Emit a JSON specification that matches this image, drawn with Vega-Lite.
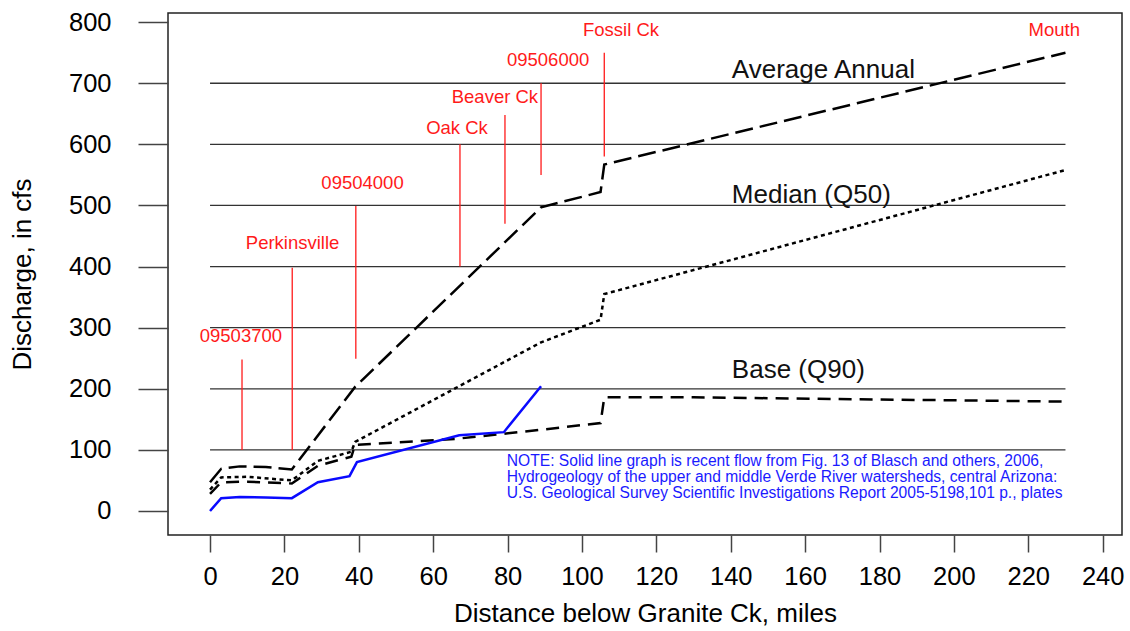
{
  "$schema": "https://vega.github.io/schema/vega-lite/v6.json",
  "width": 954,
  "height": 522,
  "autosize": {"type": "none"},
  "padding": {"left": 168, "top": 13, "right": 8, "bottom": 96},
  "background": "white",
  "config": {
    "view": {"stroke": "#222", "strokeWidth": 1.5},
    "font": "Liberation Sans",
    "axis": {"domain": false, "grid": false, "tickColor": "#444", "tickWidth": 1.5, "labelColor": "#000", "titleColor": "#000", "labelFont": "Liberation Sans", "titleFont": "Liberation Sans", "titleFontWeight": "normal", "labelFontSize": 25.5, "titleFontSize": 26}
  },
  "datasets": {
    "flows": [
      {"series": "Average Annual", "x": 0, "y": 47},
      {"series": "Average Annual", "x": 3, "y": 69},
      {"series": "Average Annual", "x": 8, "y": 73},
      {"series": "Average Annual", "x": 15, "y": 72},
      {"series": "Average Annual", "x": 22, "y": 68},
      {"series": "Average Annual", "x": 39, "y": 203},
      {"series": "Average Annual", "x": 89, "y": 497},
      {"series": "Average Annual", "x": 105, "y": 522},
      {"series": "Average Annual", "x": 106, "y": 567},
      {"series": "Average Annual", "x": 230, "y": 750},
      {"series": "Median (Q50)", "x": 0, "y": 35},
      {"series": "Median (Q50)", "x": 3, "y": 55},
      {"series": "Median (Q50)", "x": 10, "y": 56},
      {"series": "Median (Q50)", "x": 22, "y": 50},
      {"series": "Median (Q50)", "x": 29, "y": 82},
      {"series": "Median (Q50)", "x": 38, "y": 97},
      {"series": "Median (Q50)", "x": 39, "y": 113},
      {"series": "Median (Q50)", "x": 66, "y": 201},
      {"series": "Median (Q50)", "x": 89, "y": 276},
      {"series": "Median (Q50)", "x": 105, "y": 313},
      {"series": "Median (Q50)", "x": 106, "y": 355},
      {"series": "Median (Q50)", "x": 230, "y": 558},
      {"series": "Base (Q90)", "x": 0, "y": 28},
      {"series": "Base (Q90)", "x": 3, "y": 47},
      {"series": "Base (Q90)", "x": 10, "y": 48},
      {"series": "Base (Q90)", "x": 22, "y": 45},
      {"series": "Base (Q90)", "x": 29, "y": 74},
      {"series": "Base (Q90)", "x": 38, "y": 89},
      {"series": "Base (Q90)", "x": 39, "y": 108},
      {"series": "Base (Q90)", "x": 66, "y": 118},
      {"series": "Base (Q90)", "x": 89, "y": 133},
      {"series": "Base (Q90)", "x": 105, "y": 144},
      {"series": "Base (Q90)", "x": 106, "y": 186},
      {"series": "Base (Q90)", "x": 130, "y": 186},
      {"series": "Base (Q90)", "x": 230, "y": 179},
      {"series": "Recent", "x": 0, "y": 0},
      {"series": "Recent", "x": 3, "y": 21},
      {"series": "Recent", "x": 8, "y": 23},
      {"series": "Recent", "x": 15, "y": 22},
      {"series": "Recent", "x": 22, "y": 21},
      {"series": "Recent", "x": 29, "y": 47},
      {"series": "Recent", "x": 37.5, "y": 57},
      {"series": "Recent", "x": 39.5, "y": 80},
      {"series": "Recent", "x": 67, "y": 124},
      {"series": "Recent", "x": 79, "y": 129},
      {"series": "Recent", "x": 89, "y": 204}
    ],
    "grid": [{"y": 100}, {"y": 200}, {"y": 300}, {"y": 400}, {"y": 500}, {"y": 600}, {"y": 700}],
    "sites": [
      {"label": "09503700", "x": 8.6, "y1": 100, "y2": 248, "lx": 8.3, "ly": 286},
      {"label": "Perkinsville", "x": 22.1, "y1": 100, "y2": 398, "lx": 22.2, "ly": 439},
      {"label": "09504000", "x": 39.2, "y1": 249, "y2": 499, "lx": 41, "ly": 537},
      {"label": "Oak Ck", "x": 67.2, "y1": 400, "y2": 600, "lx": 66.4, "ly": 627},
      {"label": "Beaver Ck", "x": 79.3, "y1": 470, "y2": 648, "lx": 76.6, "ly": 677},
      {"label": "09506000", "x": 89, "y1": 550, "y2": 700, "lx": 90.9, "ly": 738},
      {"label": "Fossil Ck", "x": 106, "y1": 580, "y2": 750, "lx": 110.5, "ly": 787},
      {"label": "Mouth", "lx": 227, "ly": 787}
    ],
    "serieslabels": [
      {"text": "Average Annual", "x": 140.3, "y": 722},
      {"text": "Median (Q50)", "x": 140.3, "y": 517},
      {"text": "Base (Q90)", "x": 140.3, "y": 231}
    ],
    "note": [
      {"text": "NOTE: Solid line graph is recent flow from Fig. 13 of Blasch and others, 2006,", "x": 79.8, "y": 82},
      {"text": "Hydrogeology of the upper and middle Verde River watersheds, central Arizona:", "x": 79.8, "y": 56},
      {"text": "U.S. Geological Survey Scientific Investigations Report 2005-5198,101 p., plates", "x": 79.8, "y": 30}
    ]
  },
  "layer": [
    {
      "data": {"name": "grid"},
      "mark": {"type": "rule", "color": "#333", "strokeWidth": 1.3},
      "encoding": {
        "y": {"field": "y", "type": "quantitative", "scale": {"domain": [-39.3, 815], "nice": false, "zero": false},
          "axis": {"values": [0, 100, 200, 300, 400, 500, 600, 700, 800], "tickSize": 30, "labelPadding": 27, "title": "Discharge, in cfs", "titleX": -146, "titleY": 261, "titleAngle": -90, "titleAlign": "center", "titleBaseline": "middle"}},
        "x": {"datum": 0, "type": "quantitative", "scale": {"domain": [-11.3, 245.2], "nice": false, "zero": false},
          "axis": {"values": [0, 20, 40, 60, 80, 100, 120, 140, 160, 180, 200, 220, 240], "tickSize": 17, "labelPadding": 24, "labelBaseline": "middle", "title": "Distance below Granite Ck, miles", "titleY": 78, "titleBaseline": "middle"}},
        "x2": {"datum": 230}
      }
    },
    {
      "data": {"name": "sites"},
      "transform": [{"filter": "isValid(datum.x)"}],
      "mark": {"type": "rule", "color": "#ff1a1a", "strokeWidth": 1.3},
      "encoding": {
        "x": {"field": "x", "type": "quantitative"},
        "y": {"field": "y1", "type": "quantitative"},
        "y2": {"field": "y2"}
      }
    },
    {
      "data": {"name": "sites"},
      "mark": {"type": "text", "color": "#ff1a1a", "fontSize": 18.5, "font": "Liberation Sans", "align": "center", "baseline": "middle"},
      "encoding": {
        "x": {"field": "lx", "type": "quantitative"},
        "y": {"field": "ly", "type": "quantitative"},
        "text": {"field": "label"}
      }
    },
    {
      "data": {"name": "flows"},
      "transform": [{"filter": "datum.series === 'Average Annual'"}],
      "mark": {"type": "line", "color": "#000", "strokeWidth": 2.5, "strokeDash": [18, 7]},
      "encoding": {"x": {"field": "x", "type": "quantitative"}, "y": {"field": "y", "type": "quantitative"}}
    },
    {
      "data": {"name": "flows"},
      "transform": [{"filter": "datum.series === 'Median (Q50)'"}],
      "mark": {"type": "line", "color": "#000", "strokeWidth": 2.5, "strokeDash": [4, 3.5]},
      "encoding": {"x": {"field": "x", "type": "quantitative"}, "y": {"field": "y", "type": "quantitative"}}
    },
    {
      "data": {"name": "flows"},
      "transform": [{"filter": "datum.series === 'Base (Q90)'"}],
      "mark": {"type": "line", "color": "#000", "strokeWidth": 2.5, "strokeDash": [13, 8]},
      "encoding": {"x": {"field": "x", "type": "quantitative"}, "y": {"field": "y", "type": "quantitative"}}
    },
    {
      "data": {"name": "flows"},
      "transform": [{"filter": "datum.series === 'Recent'"}],
      "mark": {"type": "line", "color": "#0a0aff", "strokeWidth": 2.5},
      "encoding": {"x": {"field": "x", "type": "quantitative"}, "y": {"field": "y", "type": "quantitative"}}
    },
    {
      "data": {"name": "serieslabels"},
      "mark": {"type": "text", "color": "#111", "fontSize": 26, "font": "Liberation Sans", "align": "left", "baseline": "middle"},
      "encoding": {"x": {"field": "x", "type": "quantitative"}, "y": {"field": "y", "type": "quantitative"}, "text": {"field": "text"}}
    },
    {
      "data": {"name": "note"},
      "mark": {"type": "text", "color": "#1a1aff", "fontSize": 15.6, "font": "Liberation Sans", "align": "left", "baseline": "middle"},
      "encoding": {"x": {"field": "x", "type": "quantitative"}, "y": {"field": "y", "type": "quantitative"}, "text": {"field": "text"}}
    }
  ]
}
